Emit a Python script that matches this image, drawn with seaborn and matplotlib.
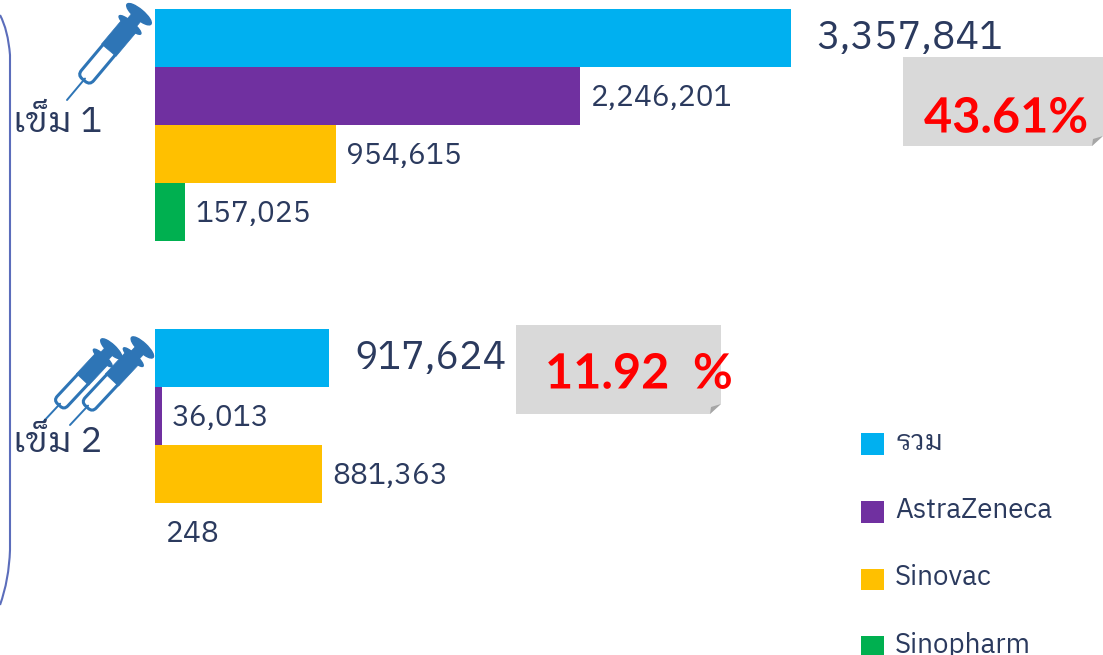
import pandas as pd
import seaborn as sns
import matplotlib
matplotlib.use('Agg')
import matplotlib.pyplot as plt
import matplotlib.patheffects as pe
from matplotlib.patches import Rectangle, Polygon, Ellipse, FancyBboxPatch, PathPatch
from matplotlib.path import Path
from matplotlib.transforms import Affine2D

vaccines = ['รวม', 'AstraZeneca', 'Sinovac', 'Sinopharm']
dose1 = [3357841, 2246201, 954615, 157025]
dose2 = [917624, 36013, 881363, 248]
dose_names = ['เข็ม 1', 'เข็ม 2']
percents = ['43.61%', '11.92  %']
colors = ['#00B0F0', '#7030A0', '#FFC000', '#00B050']

W, H = 1103, 655
NAVY = '#2B3A5E'
BLUE = '#2E75B6'

sns.set_theme(style='white')
plt.rcParams['font.family'] = ['IBM Plex Sans Thai Looped', 'DejaVu Sans']

fig = plt.figure(figsize=(W / 100, H / 100), dpi=100)


def px_axes(x0, y0, x1, y1):
    return fig.add_axes([x0 / W, 1 - y1 / H, (x1 - x0) / W, (y1 - y0) / H])


def draw_group(ax, values):
    df = pd.DataFrame({'vaccine': vaccines, 'doses': values})
    sns.barplot(data=df, x='doses', y='vaccine', hue='vaccine', order=vaccines,
                hue_order=vaccines, palette=colors, saturation=1, width=1,
                dodge=False, linewidth=0, legend=True, ax=ax)
    ax.set_xlim(0, max(dose1))
    ax.set_axis_off()
    for i, c in enumerate(ax.containers):
        big = i == 0
        labels = ax.bar_label(c, fmt='{:,.0f}', padding=18.5 if big else 7.5,
                              fontsize=28.3 if big else 21.5, color=NAVY)
        # small labels sit a touch below the bar centre
        for t in labels:
            if not big:
                t.xyann = (t.xyann[0], t.xyann[1] - 1.3)


ax1 = px_axes(155, 9, 791, 241)
ax2 = px_axes(155, 329, 791, 561)
draw_group(ax1, dose1)
draw_group(ax2, dose2)

handles = ax1.get_legend().legend_handles
ax1.get_legend().remove()
ax2.get_legend().remove()
leg = fig.legend(handles, vaccines, loc='upper left', bbox_to_anchor=(861 / W, 1 - 433 / H),
                 frameon=False, fontsize=20, labelcolor=NAVY, handlelength=0.83, handleheight=0.83,
                 handletextpad=0.4, labelspacing=1.46, borderpad=0, borderaxespad=0)
for t in leg.get_texts():
    t.set_y(4)

# overlay in pixel coordinates for the decoration
deco = fig.add_axes([0, 0, 1, 1], zorder=-1)
deco.set_xlim(0, W)
deco.set_ylim(H, 0)
deco.set_axis_off()
top = fig.add_axes([0, 0, 1, 1], zorder=5)
top.set_xlim(0, W)
top.set_ylim(H, 0)
top.set_axis_off()
top.patch.set_alpha(0)

# bracket on the left
brace = Path([(0, 15), (8, 30), (10, 55), (10, 300), (10, 550), (9, 580), (0, 605)],
             [Path.MOVETO, Path.CURVE3, Path.CURVE3, Path.LINETO, Path.LINETO, Path.CURVE3, Path.CURVE3])
deco.add_patch(PathPatch(brace, fc='none', ec='#5B6DBB', lw=1.5))


def syringe(x, y, angle, length=113):
    # local frame: needle tip at origin, pointing along +x
    s = length / 113
    tr = Affine2D().scale(s).rotate_deg(angle).translate(x, y) + top.transData
    top.plot([0, 28], [0, 0], color=BLUE, lw=1.4, transform=tr)
    top.add_patch(FancyBboxPatch((26, -8), 44, 16, boxstyle='round,pad=0,rounding_size=6',
                                 fc='white', ec=BLUE, lw=2.2, transform=tr))
    top.add_patch(Rectangle((65, -9.5), 33, 19, fc=BLUE, ec=BLUE, lw=0.5, transform=tr))
    top.add_patch(Rectangle((97, -6), 15, 12, fc=BLUE, ec=BLUE, lw=0.5, transform=tr))
    top.add_patch(Ellipse((98, 0), 7, 28, fc=BLUE, ec=BLUE, transform=tr))
    top.add_patch(Ellipse((112, 0), 10, 31, fc=BLUE, ec=BLUE, transform=tr))


syringe(67, 100, -50)
syringe(43, 422, -47, 101)
syringe(70, 425, -47, 107)

for name, yc in zip(dose_names, [122, 442]):
    top.text(13, yc, name, fontsize=26, color=NAVY, va='center', ha='left')


def note(x0, y0, x1, y1, label, tx, ty):
    deco.add_patch(Rectangle((x0, y0), x1 - x0, y1 - y0, fc='#D9D9D9', ec='none'))
    deco.add_patch(Polygon([(x1 - 12, y1 + 1), (x1 + 1, y1 - 11), (x1 + 1, y1 + 1)], fc='white', ec='none'))
    deco.add_patch(Polygon([(x1 - 11, y1), (x1 - 10, y1 - 7), (x1, y1 - 10)], fc='#A6A6A6', ec='none'))
    top.text(tx, ty, label, fontsize=35, color='#FF0000', family='Lato', weight='bold',
             va='center', ha='left',
             path_effects=[pe.SimpleLineShadow(offset=(1.5, -1.5), shadow_color='#555555', alpha=0.5),
                           pe.Normal()])


note(903, 57, 1103, 146, percents[0], 924, 118)
note(516, 325, 721, 414, percents[1], 545, 374)

fig.savefig('out.png', dpi=100)
